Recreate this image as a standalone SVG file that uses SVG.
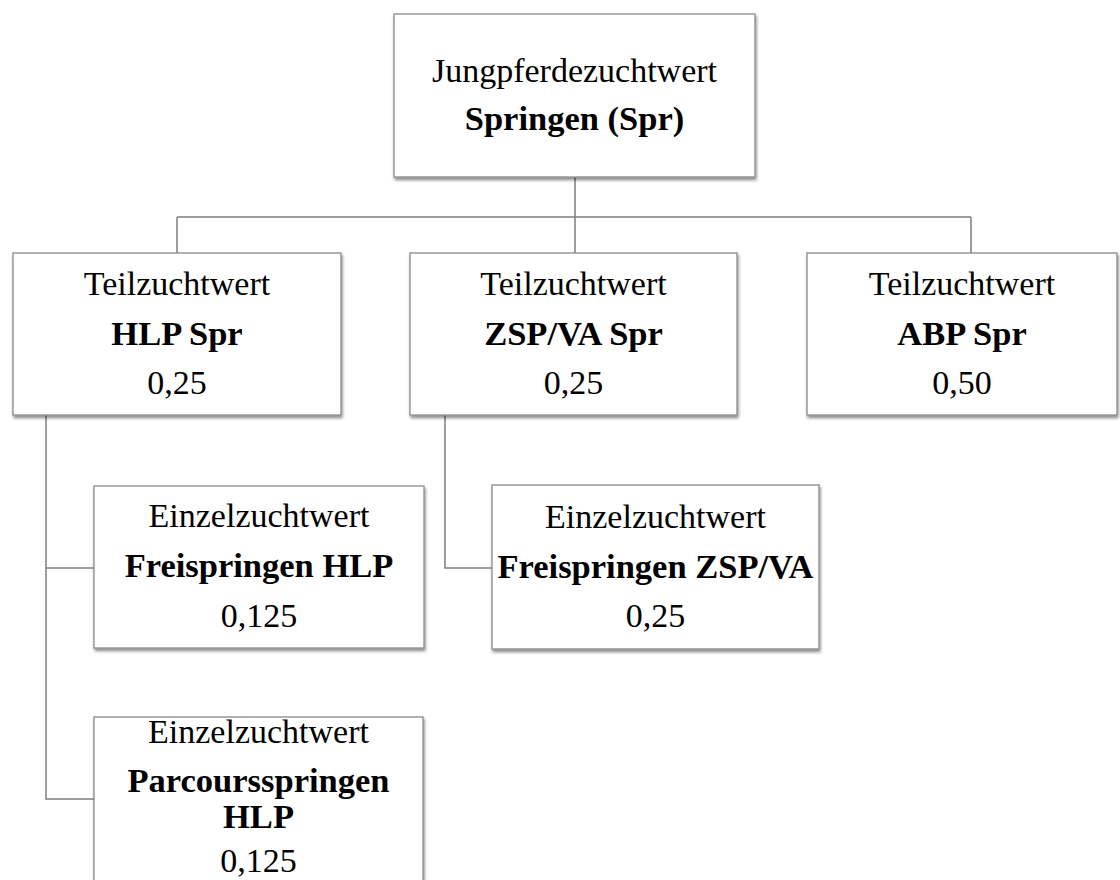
<svg xmlns="http://www.w3.org/2000/svg" width="1120" height="880" viewBox="0 0 1120 880">
<defs>
<filter id="sh" x="-10%" y="-10%" width="120%" height="130%">
<feDropShadow dx="1" dy="2.5" stdDeviation="1.5" flood-color="#000" flood-opacity="0.45"/>
</filter>
<style>
.box{fill:#fff;stroke:#8a8a8a;stroke-width:1.3;filter:url(#sh)}
.t{font-family:"Liberation Serif","Times New Roman",serif;font-size:34px;fill:#000;text-anchor:middle}
.b{font-weight:bold;font-size:34.5px}
.c{fill:none;stroke:#7f7f7f;stroke-width:1.5}
</style>
</defs>
<rect width="1120" height="880" fill="#fff"/>
<g id="connectors">
<path class="c" d="M575 177V217M177 217H971M177 217V253M575 217V253M971 217V253"/>
<path class="c" d="M46 415V799H94M46 568H94"/>
<path class="c" d="M445 415V568H492"/>
</g>
<g id="root">
<rect class="box" x="394" y="14" width="361" height="163"/>
<text class="t" x="574.5" y="82">Jungpferdezuchtwert</text>
<text class="t b" x="574.5" y="130">Springen (Spr)</text>
</g>
<g id="hlp">
<rect class="box" x="13" y="253" width="328" height="162"/>
<text class="t" x="177" y="295">Teilzuchtwert</text>
<text class="t b" x="177" y="345">HLP Spr</text>
<text class="t" x="177" y="394">0,25</text>
</g>
<g id="zsp">
<rect class="box" x="410" y="253" width="327" height="162"/>
<text class="t" x="573.5" y="295">Teilzuchtwert</text>
<text class="t b" x="573.5" y="345">ZSP/VA Spr</text>
<text class="t" x="573.5" y="394">0,25</text>
</g>
<g id="abp">
<rect class="box" x="807" y="253" width="310" height="162"/>
<text class="t" x="962" y="295">Teilzuchtwert</text>
<text class="t b" x="962" y="345">ABP Spr</text>
<text class="t" x="962" y="394">0,50</text>
</g>
<g id="frei-hlp">
<rect class="box" x="94" y="486" width="330" height="162"/>
<text class="t" x="259" y="527">Einzelzuchtwert</text>
<text class="t b" x="259" y="577">Freispringen HLP</text>
<text class="t" x="259" y="627">0,125</text>
</g>
<g id="frei-zsp">
<rect class="box" x="492" y="485" width="327" height="164"/>
<text class="t" x="655.5" y="528">Einzelzuchtwert</text>
<text class="t b" x="655.5" y="578">Freispringen ZSP/VA</text>
<text class="t" x="655.5" y="627">0,25</text>
</g>
<g id="parcours-hlp">
<rect class="box" x="94" y="717" width="329" height="200"/>
<text class="t" x="258.5" y="743">Einzelzuchtwert</text>
<text class="t b" x="258.5" y="792">Parcoursspringen</text>
<text class="t b" x="258.5" y="828">HLP</text>
<text class="t" x="258.5" y="872">0,125</text>
</g>
</svg>
